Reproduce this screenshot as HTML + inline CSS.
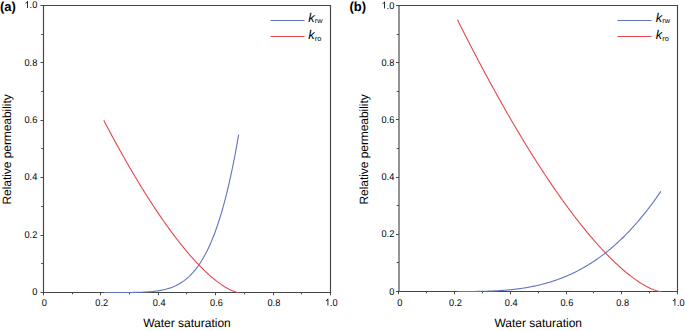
<!DOCTYPE html>
<html><head><meta charset="utf-8"><style>
html,body{margin:0;padding:0;background:#fff;width:685px;height:331px;overflow:hidden}
svg{display:block}
</style></head><body>
<svg width="685" height="331" viewBox="0 0 685 331" text-rendering="geometricPrecision" font-family='"Liberation Sans", sans-serif'>
<rect width="685" height="331" fill="#fff"/>
<path d="M43.5,5.5 L330.5,5.5 L330.5,292.5 L43.5,292.5 Z" fill="none" stroke="#464646" stroke-width="1.15"/>
<line x1="43.5" y1="292.5" x2="43.5" y2="295.3" stroke="#484848" stroke-width="1"/>
<line x1="43.5" y1="292.5" x2="40.5" y2="292.5" stroke="#484848" stroke-width="1"/>
<text transform="translate(44.30,305.60) scale(0.94,1)" text-anchor="middle" font-size="9.8" fill="#000000" >0</text>
<text transform="translate(37.30,295.10) scale(0.94,1)" text-anchor="end" font-size="9.8" fill="#000000" >0</text>
<line x1="72.5" y1="292.5" x2="72.5" y2="294.3" stroke="#484848" stroke-width="1"/>
<line x1="43.5" y1="263.5" x2="41.2" y2="263.5" stroke="#484848" stroke-width="1"/>
<line x1="100.5" y1="292.5" x2="100.5" y2="295.3" stroke="#484848" stroke-width="1"/>
<line x1="43.5" y1="235.5" x2="40.5" y2="235.5" stroke="#484848" stroke-width="1"/>
<text transform="translate(101.70,305.60) scale(0.94,1)" text-anchor="middle" font-size="9.8" fill="#000000" >0.2</text>
<text transform="translate(37.30,237.70) scale(0.94,1)" text-anchor="end" font-size="9.8" fill="#000000" >0.2</text>
<line x1="129.5" y1="292.5" x2="129.5" y2="294.3" stroke="#484848" stroke-width="1"/>
<line x1="43.5" y1="206.5" x2="41.2" y2="206.5" stroke="#484848" stroke-width="1"/>
<line x1="158.5" y1="292.5" x2="158.5" y2="295.3" stroke="#484848" stroke-width="1"/>
<line x1="43.5" y1="177.5" x2="40.5" y2="177.5" stroke="#484848" stroke-width="1"/>
<text transform="translate(159.10,305.60) scale(0.94,1)" text-anchor="middle" font-size="9.8" fill="#000000" >0.4</text>
<text transform="translate(37.30,180.30) scale(0.94,1)" text-anchor="end" font-size="9.8" fill="#000000" >0.4</text>
<line x1="186.5" y1="292.5" x2="186.5" y2="294.3" stroke="#484848" stroke-width="1"/>
<line x1="43.5" y1="148.5" x2="41.2" y2="148.5" stroke="#484848" stroke-width="1"/>
<line x1="215.5" y1="292.5" x2="215.5" y2="295.3" stroke="#484848" stroke-width="1"/>
<line x1="43.5" y1="120.5" x2="40.5" y2="120.5" stroke="#484848" stroke-width="1"/>
<text transform="translate(216.50,305.60) scale(0.94,1)" text-anchor="middle" font-size="9.8" fill="#000000" >0.6</text>
<text transform="translate(37.30,122.90) scale(0.94,1)" text-anchor="end" font-size="9.8" fill="#000000" >0.6</text>
<line x1="244.5" y1="292.5" x2="244.5" y2="294.3" stroke="#484848" stroke-width="1"/>
<line x1="43.5" y1="91.5" x2="41.2" y2="91.5" stroke="#484848" stroke-width="1"/>
<line x1="273.5" y1="292.5" x2="273.5" y2="295.3" stroke="#484848" stroke-width="1"/>
<line x1="43.5" y1="62.5" x2="40.5" y2="62.5" stroke="#484848" stroke-width="1"/>
<text transform="translate(273.90,305.60) scale(0.94,1)" text-anchor="middle" font-size="9.8" fill="#000000" >0.8</text>
<text transform="translate(37.30,65.50) scale(0.94,1)" text-anchor="end" font-size="9.8" fill="#000000" >0.8</text>
<line x1="301.5" y1="292.5" x2="301.5" y2="294.3" stroke="#484848" stroke-width="1"/>
<line x1="43.5" y1="34.5" x2="41.2" y2="34.5" stroke="#484848" stroke-width="1"/>
<line x1="330.5" y1="292.5" x2="330.5" y2="295.3" stroke="#484848" stroke-width="1"/>
<line x1="43.5" y1="5.5" x2="40.5" y2="5.5" stroke="#484848" stroke-width="1"/>
<path d="M763,0 L583,0 L583,1147 Q518,1085 412,1023 Q306,961 222,930 L222,1104 Q373,1175 486,1276 Q599,1377 646,1472 L763,1472 Z" transform="translate(324.90,305.60) scale(0.004498,-0.004785)" fill="#000000" stroke="none"/><text transform="translate(330.02,305.60) scale(0.94,1)" text-anchor="start" font-size="9.8" fill="#000000" >.0</text>
<path d="M763,0 L583,0 L583,1147 Q518,1085 412,1023 Q306,961 222,930 L222,1104 Q373,1175 486,1276 Q599,1377 646,1472 L763,1472 Z" transform="translate(24.50,8.10) scale(0.004498,-0.004785)" fill="#000000" stroke="none"/><text transform="translate(29.62,8.10) scale(0.94,1)" text-anchor="start" font-size="9.8" fill="#000000" >.0</text>
<path d="M103.77,292.50 L104.45,292.50 L105.13,292.50 L105.80,292.50 L106.48,292.50 L107.16,292.50 L107.84,292.50 L108.51,292.50 L109.19,292.50 L109.87,292.50 L110.55,292.50 L111.23,292.50 L111.90,292.50 L112.58,292.50 L113.26,292.50 L113.94,292.50 L114.62,292.50 L115.29,292.50 L115.97,292.50 L116.65,292.50 L117.33,292.50 L118.00,292.50 L118.68,292.50 L119.36,292.50 L120.04,292.50 L120.72,292.50 L121.39,292.49 L122.07,292.49 L122.75,292.49 L123.43,292.49 L124.11,292.49 L124.78,292.49 L125.46,292.48 L126.14,292.48 L126.82,292.48 L127.49,292.47 L128.17,292.47 L128.85,292.46 L129.53,292.46 L130.21,292.45 L130.88,292.45 L131.56,292.44 L132.24,292.43 L132.92,292.43 L133.59,292.42 L134.27,292.41 L134.95,292.40 L135.63,292.38 L136.31,292.37 L136.98,292.36 L137.66,292.34 L138.34,292.33 L139.02,292.31 L139.70,292.29 L140.37,292.27 L141.05,292.25 L141.73,292.22 L142.41,292.20 L143.08,292.17 L143.76,292.14 L144.44,292.11 L145.12,292.07 L145.80,292.04 L146.47,292.00 L147.15,291.96 L147.83,291.91 L148.51,291.87 L149.19,291.82 L149.86,291.76 L150.54,291.71 L151.22,291.65 L151.90,291.59 L152.57,291.52 L153.25,291.45 L153.93,291.38 L154.61,291.30 L155.29,291.22 L155.96,291.13 L156.64,291.04 L157.32,290.94 L158.00,290.84 L158.67,290.74 L159.35,290.62 L160.03,290.51 L160.71,290.38 L161.39,290.26 L162.06,290.12 L162.74,289.98 L163.42,289.83 L164.10,289.68 L164.78,289.51 L165.45,289.34 L166.13,289.17 L166.81,288.98 L167.49,288.79 L168.16,288.59 L168.84,288.38 L169.52,288.16 L170.20,287.93 L170.88,287.69 L171.55,287.44 L172.23,287.18 L172.91,286.92 L173.59,286.64 L174.27,286.35 L174.94,286.04 L175.62,285.73 L176.30,285.41 L176.98,285.07 L177.65,284.72 L178.33,284.35 L179.01,283.98 L179.69,283.59 L180.37,283.18 L181.04,282.76 L181.72,282.33 L182.40,281.88 L183.08,281.41 L183.76,280.93 L184.43,280.43 L185.11,279.91 L185.79,279.38 L186.47,278.83 L187.14,278.26 L187.82,277.67 L188.50,277.06 L189.18,276.44 L189.86,275.79 L190.53,275.12 L191.21,274.43 L191.89,273.72 L192.57,272.99 L193.24,272.23 L193.92,271.45 L194.60,270.65 L195.28,269.82 L195.96,268.97 L196.63,268.09 L197.31,267.19 L197.99,266.25 L198.67,265.30 L199.35,264.31 L200.02,263.30 L200.70,262.25 L201.38,261.18 L202.06,260.08 L202.73,258.95 L203.41,257.78 L204.09,256.58 L204.77,255.35 L205.45,254.09 L206.12,252.79 L206.80,251.46 L207.48,250.09 L208.16,248.69 L208.84,247.25 L209.51,245.77 L210.19,244.25 L210.87,242.70 L211.55,241.10 L212.22,239.46 L212.90,237.78 L213.58,236.06 L214.26,234.30 L214.94,232.49 L215.61,230.64 L216.29,228.74 L216.97,226.80 L217.65,224.81 L218.32,222.77 L219.00,220.68 L219.68,218.55 L220.36,216.36 L221.04,214.12 L221.71,211.83 L222.39,209.48 L223.07,207.08 L223.75,204.63 L224.43,202.12 L225.10,199.55 L225.78,196.93 L226.46,194.24 L227.14,191.50 L227.81,188.69 L228.49,185.82 L229.17,182.89 L229.85,179.90 L230.53,176.84 L231.20,173.71 L231.88,170.52 L232.56,167.26 L233.24,163.93 L233.92,160.53 L234.59,157.05 L235.27,153.51 L235.95,149.89 L236.63,146.19 L237.30,142.42 L237.98,138.58 L238.66,134.65" fill="none" stroke="#6273be" stroke-width="1.1"/>
<path d="M103.77,120.30 L104.45,121.60 L105.13,122.89 L105.80,124.18 L106.48,125.47 L107.16,126.75 L107.84,128.03 L108.51,129.31 L109.19,130.58 L109.87,131.85 L110.55,133.12 L111.23,134.38 L111.90,135.64 L112.58,136.90 L113.26,138.15 L113.94,139.40 L114.62,140.64 L115.29,141.89 L115.97,143.13 L116.65,144.36 L117.33,145.60 L118.00,146.83 L118.68,148.05 L119.36,149.27 L120.04,150.49 L120.72,151.71 L121.39,152.92 L122.07,154.13 L122.75,155.33 L123.43,156.54 L124.11,157.73 L124.78,158.93 L125.46,160.12 L126.14,161.31 L126.82,162.49 L127.49,163.67 L128.17,164.85 L128.85,166.02 L129.53,167.19 L130.21,168.35 L130.88,169.52 L131.56,170.67 L132.24,171.83 L132.92,172.98 L133.59,174.13 L134.27,175.27 L134.95,176.41 L135.63,177.55 L136.31,178.68 L136.98,179.81 L137.66,180.93 L138.34,182.05 L139.02,183.17 L139.70,184.29 L140.37,185.40 L141.05,186.50 L141.73,187.60 L142.41,188.70 L143.08,189.80 L143.76,190.89 L144.44,191.97 L145.12,193.06 L145.80,194.14 L146.47,195.21 L147.15,196.28 L147.83,197.35 L148.51,198.41 L149.19,199.47 L149.86,200.53 L150.54,201.58 L151.22,202.63 L151.90,203.67 L152.57,204.71 L153.25,205.74 L153.93,206.77 L154.61,207.80 L155.29,208.82 L155.96,209.84 L156.64,210.85 L157.32,211.86 L158.00,212.87 L158.67,213.87 L159.35,214.87 L160.03,215.86 L160.71,216.85 L161.39,217.84 L162.06,218.82 L162.74,219.79 L163.42,220.76 L164.10,221.73 L164.78,222.69 L165.45,223.65 L166.13,224.61 L166.81,225.56 L167.49,226.50 L168.16,227.44 L168.84,228.38 L169.52,229.31 L170.20,230.24 L170.88,231.16 L171.55,232.08 L172.23,232.99 L172.91,233.90 L173.59,234.80 L174.27,235.70 L174.94,236.60 L175.62,237.49 L176.30,238.37 L176.98,239.25 L177.65,240.13 L178.33,241.00 L179.01,241.86 L179.69,242.72 L180.37,243.58 L181.04,244.43 L181.72,245.27 L182.40,246.12 L183.08,246.95 L183.76,247.78 L184.43,248.61 L185.11,249.43 L185.79,250.24 L186.47,251.05 L187.14,251.86 L187.82,252.66 L188.50,253.45 L189.18,254.24 L189.86,255.02 L190.53,255.80 L191.21,256.57 L191.89,257.34 L192.57,258.10 L193.24,258.86 L193.92,259.61 L194.60,260.35 L195.28,261.09 L195.96,261.83 L196.63,262.55 L197.31,263.28 L197.99,263.99 L198.67,264.70 L199.35,265.40 L200.02,266.10 L200.70,266.79 L201.38,267.48 L202.06,268.16 L202.73,268.83 L203.41,269.50 L204.09,270.16 L204.77,270.81 L205.45,271.46 L206.12,272.10 L206.80,272.73 L207.48,273.36 L208.16,273.98 L208.84,274.60 L209.51,275.20 L210.19,275.80 L210.87,276.40 L211.55,276.98 L212.22,277.56 L212.90,278.13 L213.58,278.69 L214.26,279.25 L214.94,279.80 L215.61,280.34 L216.29,280.87 L216.97,281.40 L217.65,281.91 L218.32,282.42 L219.00,282.92 L219.68,283.41 L220.36,283.89 L221.04,284.37 L221.71,284.83 L222.39,285.29 L223.07,285.73 L223.75,286.17 L224.43,286.60 L225.10,287.01 L225.78,287.42 L226.46,287.82 L227.14,288.20 L227.81,288.57 L228.49,288.94 L229.17,289.29 L229.85,289.62 L230.53,289.95 L231.20,290.26 L231.88,290.56 L232.56,290.84 L233.24,291.11 L233.92,291.36 L234.59,291.60 L235.27,291.81 L235.95,292.01 L236.63,292.18 L237.30,292.33 L237.98,292.44 L238.66,292.50" fill="none" stroke="#e6464b" stroke-width="1.1"/>
<line x1="270.5" y1="20.5" x2="304.5" y2="20.5" stroke="#6273be" stroke-width="1"/>
<line x1="270.5" y1="36.5" x2="304.5" y2="36.5" stroke="#e6464b" stroke-width="1"/>
<text x="308.3" y="21.5" font-size="12" fill="#000000" ><tspan font-style="italic" font-size="12.8">k</tspan><tspan font-size="7.3" dy="1.35">rw</tspan></text>
<text x="308.3" y="39.4" font-size="12" fill="#000000" ><tspan font-style="italic" font-size="12.8">k</tspan><tspan font-size="7.3" dy="1.35">ro</tspan></text>
<text x="187.0" y="327" text-anchor="middle" font-size="12" fill="#000000" >Water saturation</text>
<text transform="translate(10.9,149.4) rotate(-90)" x="0" y="0" text-anchor="middle" font-size="12" textLength="110.2" lengthAdjust="spacing" fill="#000000" >Relative permeability</text>
<text x="0" y="10.9" font-size="13" font-weight="bold" fill="#000000">(a)</text>
<path d="M399,5.5 L677.5,5.5 L677.5,291.5 L399,291.5 Z" fill="none" stroke="#464646" stroke-width="1.15"/>
<line x1="398.5" y1="291.5" x2="398.5" y2="294.3" stroke="#484848" stroke-width="1"/>
<line x1="399" y1="291.5" x2="396.0" y2="291.5" stroke="#484848" stroke-width="1"/>
<text transform="translate(399.80,305.60) scale(0.94,1)" text-anchor="middle" font-size="9.8" fill="#000000" >0</text>
<text transform="translate(394.30,294.50) scale(0.94,1)" text-anchor="end" font-size="9.8" fill="#000000" >0</text>
<line x1="426.5" y1="291.5" x2="426.5" y2="293.3" stroke="#484848" stroke-width="1"/>
<line x1="399" y1="262.5" x2="396.7" y2="262.5" stroke="#484848" stroke-width="1"/>
<line x1="454.5" y1="291.5" x2="454.5" y2="294.3" stroke="#484848" stroke-width="1"/>
<line x1="399" y1="234.5" x2="396.0" y2="234.5" stroke="#484848" stroke-width="1"/>
<text transform="translate(455.50,305.60) scale(0.94,1)" text-anchor="middle" font-size="9.8" fill="#000000" >0.2</text>
<text transform="translate(394.30,237.30) scale(0.94,1)" text-anchor="end" font-size="9.8" fill="#000000" >0.2</text>
<line x1="482.5" y1="291.5" x2="482.5" y2="293.3" stroke="#484848" stroke-width="1"/>
<line x1="399" y1="205.5" x2="396.7" y2="205.5" stroke="#484848" stroke-width="1"/>
<line x1="510.5" y1="291.5" x2="510.5" y2="294.3" stroke="#484848" stroke-width="1"/>
<line x1="399" y1="177.5" x2="396.0" y2="177.5" stroke="#484848" stroke-width="1"/>
<text transform="translate(511.20,305.60) scale(0.94,1)" text-anchor="middle" font-size="9.8" fill="#000000" >0.4</text>
<text transform="translate(394.30,180.10) scale(0.94,1)" text-anchor="end" font-size="9.8" fill="#000000" >0.4</text>
<line x1="538.5" y1="291.5" x2="538.5" y2="293.3" stroke="#484848" stroke-width="1"/>
<line x1="399" y1="148.5" x2="396.7" y2="148.5" stroke="#484848" stroke-width="1"/>
<line x1="566.5" y1="291.5" x2="566.5" y2="294.3" stroke="#484848" stroke-width="1"/>
<line x1="399" y1="119.5" x2="396.0" y2="119.5" stroke="#484848" stroke-width="1"/>
<text transform="translate(566.90,305.60) scale(0.94,1)" text-anchor="middle" font-size="9.8" fill="#000000" >0.6</text>
<text transform="translate(394.30,122.90) scale(0.94,1)" text-anchor="end" font-size="9.8" fill="#000000" >0.6</text>
<line x1="593.5" y1="291.5" x2="593.5" y2="293.3" stroke="#484848" stroke-width="1"/>
<line x1="399" y1="91.5" x2="396.7" y2="91.5" stroke="#484848" stroke-width="1"/>
<line x1="621.5" y1="291.5" x2="621.5" y2="294.3" stroke="#484848" stroke-width="1"/>
<line x1="399" y1="62.5" x2="396.0" y2="62.5" stroke="#484848" stroke-width="1"/>
<text transform="translate(622.60,305.60) scale(0.94,1)" text-anchor="middle" font-size="9.8" fill="#000000" >0.8</text>
<text transform="translate(394.30,65.70) scale(0.94,1)" text-anchor="end" font-size="9.8" fill="#000000" >0.8</text>
<line x1="649.5" y1="291.5" x2="649.5" y2="293.3" stroke="#484848" stroke-width="1"/>
<line x1="399" y1="34.5" x2="396.7" y2="34.5" stroke="#484848" stroke-width="1"/>
<line x1="677.5" y1="291.5" x2="677.5" y2="294.3" stroke="#484848" stroke-width="1"/>
<line x1="399" y1="5.5" x2="396.0" y2="5.5" stroke="#484848" stroke-width="1"/>
<path d="M763,0 L583,0 L583,1147 Q518,1085 412,1023 Q306,961 222,930 L222,1104 Q373,1175 486,1276 Q599,1377 646,1472 L763,1472 Z" transform="translate(671.90,305.60) scale(0.004498,-0.004785)" fill="#000000" stroke="none"/><text transform="translate(677.02,305.60) scale(0.94,1)" text-anchor="start" font-size="9.8" fill="#000000" >.0</text>
<path d="M763,0 L583,0 L583,1147 Q518,1085 412,1023 Q306,961 222,930 L222,1104 Q373,1175 486,1276 Q599,1377 646,1472 L763,1472 Z" transform="translate(381.50,8.50) scale(0.004498,-0.004785)" fill="#000000" stroke="none"/><text transform="translate(386.62,8.50) scale(0.94,1)" text-anchor="start" font-size="9.8" fill="#000000" >.0</text>
<path d="M457.49,291.50 L458.51,291.50 L459.53,291.50 L460.55,291.50 L461.57,291.50 L462.59,291.50 L463.61,291.50 L464.64,291.50 L465.66,291.49 L466.68,291.49 L467.70,291.49 L468.72,291.48 L469.74,291.48 L470.77,291.47 L471.79,291.47 L472.81,291.46 L473.83,291.45 L474.85,291.44 L475.87,291.43 L476.90,291.41 L477.92,291.40 L478.94,291.38 L479.96,291.36 L480.98,291.35 L482.00,291.32 L483.03,291.30 L484.05,291.28 L485.07,291.25 L486.09,291.22 L487.11,291.19 L488.13,291.16 L489.16,291.12 L490.18,291.08 L491.20,291.04 L492.22,291.00 L493.24,290.96 L494.26,290.91 L495.29,290.86 L496.31,290.80 L497.33,290.75 L498.35,290.69 L499.37,290.62 L500.39,290.56 L501.42,290.49 L502.44,290.42 L503.46,290.34 L504.48,290.26 L505.50,290.18 L506.52,290.10 L507.55,290.01 L508.57,289.91 L509.59,289.82 L510.61,289.71 L511.63,289.61 L512.65,289.50 L513.67,289.39 L514.70,289.27 L515.72,289.15 L516.74,289.02 L517.76,288.89 L518.78,288.76 L519.80,288.62 L520.83,288.47 L521.85,288.32 L522.87,288.17 L523.89,288.01 L524.91,287.85 L525.93,287.68 L526.96,287.51 L527.98,287.33 L529.00,287.14 L530.02,286.95 L531.04,286.76 L532.06,286.56 L533.09,286.35 L534.11,286.14 L535.13,285.92 L536.15,285.70 L537.17,285.47 L538.19,285.24 L539.22,285.00 L540.24,284.75 L541.26,284.50 L542.28,284.24 L543.30,283.97 L544.32,283.70 L545.35,283.42 L546.37,283.14 L547.39,282.84 L548.41,282.55 L549.43,282.24 L550.45,281.93 L551.48,281.61 L552.50,281.28 L553.52,280.95 L554.54,280.61 L555.56,280.26 L556.58,279.91 L557.61,279.54 L558.63,279.18 L559.65,278.80 L560.67,278.41 L561.69,278.02 L562.71,277.62 L563.73,277.21 L564.76,276.80 L565.78,276.37 L566.80,275.94 L567.82,275.50 L568.84,275.05 L569.86,274.59 L570.89,274.13 L571.91,273.65 L572.93,273.17 L573.95,272.68 L574.97,272.18 L575.99,271.67 L577.02,271.16 L578.04,270.63 L579.06,270.09 L580.08,269.55 L581.10,269.00 L582.12,268.43 L583.15,267.86 L584.17,267.28 L585.19,266.69 L586.21,266.09 L587.23,265.48 L588.25,264.86 L589.28,264.23 L590.30,263.59 L591.32,262.94 L592.34,262.29 L593.36,261.62 L594.38,260.94 L595.41,260.25 L596.43,259.55 L597.45,258.84 L598.47,258.12 L599.49,257.39 L600.51,256.65 L601.54,255.89 L602.56,255.13 L603.58,254.36 L604.60,253.57 L605.62,252.78 L606.64,251.97 L607.67,251.15 L608.69,250.32 L609.71,249.48 L610.73,248.63 L611.75,247.77 L612.77,246.89 L613.79,246.01 L614.82,245.11 L615.84,244.20 L616.86,243.28 L617.88,242.34 L618.90,241.40 L619.92,240.44 L620.95,239.47 L621.97,238.49 L622.99,237.50 L624.01,236.49 L625.03,235.47 L626.05,234.44 L627.08,233.40 L628.10,232.34 L629.12,231.27 L630.14,230.19 L631.16,229.09 L632.18,227.99 L633.21,226.87 L634.23,225.73 L635.25,224.59 L636.27,223.42 L637.29,222.25 L638.31,221.06 L639.34,219.86 L640.36,218.65 L641.38,217.42 L642.40,216.18 L643.42,214.92 L644.44,213.66 L645.47,212.37 L646.49,211.08 L647.51,209.76 L648.53,208.44 L649.55,207.10 L650.57,205.74 L651.60,204.38 L652.62,202.99 L653.64,201.60 L654.66,200.18 L655.68,198.76 L656.70,197.32 L657.73,195.86 L658.75,194.39 L659.77,192.90 L660.79,191.40" fill="none" stroke="#6273be" stroke-width="1.1"/>
<path d="M457.49,19.80 L458.51,21.85 L459.53,23.89 L460.55,25.92 L461.57,27.95 L462.59,29.98 L463.61,31.99 L464.64,34.01 L465.66,36.02 L466.68,38.02 L467.70,40.02 L468.72,42.01 L469.74,44.00 L470.77,45.98 L471.79,47.96 L472.81,49.93 L473.83,51.90 L474.85,53.86 L475.87,55.82 L476.90,57.77 L477.92,59.71 L478.94,61.65 L479.96,63.59 L480.98,65.52 L482.00,67.44 L483.03,69.36 L484.05,71.27 L485.07,73.18 L486.09,75.08 L487.11,76.97 L488.13,78.86 L489.16,80.75 L490.18,82.63 L491.20,84.50 L492.22,86.37 L493.24,88.23 L494.26,90.09 L495.29,91.94 L496.31,93.78 L497.33,95.62 L498.35,97.45 L499.37,99.28 L500.39,101.10 L501.42,102.92 L502.44,104.73 L503.46,106.53 L504.48,108.33 L505.50,110.13 L506.52,111.91 L507.55,113.69 L508.57,115.47 L509.59,117.24 L510.61,119.00 L511.63,120.76 L512.65,122.51 L513.67,124.25 L514.70,125.99 L515.72,127.73 L516.74,129.45 L517.76,131.17 L518.78,132.89 L519.80,134.60 L520.83,136.30 L521.85,138.00 L522.87,139.69 L523.89,141.37 L524.91,143.05 L525.93,144.72 L526.96,146.38 L527.98,148.04 L529.00,149.69 L530.02,151.34 L531.04,152.98 L532.06,154.61 L533.09,156.24 L534.11,157.86 L535.13,159.47 L536.15,161.08 L537.17,162.68 L538.19,164.27 L539.22,165.86 L540.24,167.44 L541.26,169.01 L542.28,170.58 L543.30,172.14 L544.32,173.69 L545.35,175.24 L546.37,176.78 L547.39,178.31 L548.41,179.84 L549.43,181.36 L550.45,182.87 L551.48,184.38 L552.50,185.87 L553.52,187.37 L554.54,188.85 L555.56,190.33 L556.58,191.80 L557.61,193.26 L558.63,194.71 L559.65,196.16 L560.67,197.60 L561.69,199.04 L562.71,200.46 L563.73,201.88 L564.76,203.29 L565.78,204.70 L566.80,206.09 L567.82,207.48 L568.84,208.86 L569.86,210.24 L570.89,211.60 L571.91,212.96 L572.93,214.31 L573.95,215.65 L574.97,216.99 L575.99,218.31 L577.02,219.63 L578.04,220.94 L579.06,222.25 L580.08,223.54 L581.10,224.83 L582.12,226.10 L583.15,227.37 L584.17,228.64 L585.19,229.89 L586.21,231.13 L587.23,232.37 L588.25,233.60 L589.28,234.82 L590.30,236.03 L591.32,237.23 L592.34,238.42 L593.36,239.60 L594.38,240.78 L595.41,241.95 L596.43,243.10 L597.45,244.25 L598.47,245.39 L599.49,246.52 L600.51,247.64 L601.54,248.75 L602.56,249.85 L603.58,250.94 L604.60,252.02 L605.62,253.09 L606.64,254.16 L607.67,255.21 L608.69,256.25 L609.71,257.28 L610.73,258.30 L611.75,259.31 L612.77,260.31 L613.79,261.30 L614.82,262.28 L615.84,263.25 L616.86,264.21 L617.88,265.16 L618.90,266.09 L619.92,267.02 L620.95,267.93 L621.97,268.83 L622.99,269.72 L624.01,270.59 L625.03,271.46 L626.05,272.31 L627.08,273.15 L628.10,273.98 L629.12,274.79 L630.14,275.60 L631.16,276.39 L632.18,277.16 L633.21,277.92 L634.23,278.67 L635.25,279.40 L636.27,280.12 L637.29,280.82 L638.31,281.51 L639.34,282.19 L640.36,282.84 L641.38,283.48 L642.40,284.11 L643.42,284.72 L644.44,285.31 L645.47,285.88 L646.49,286.43 L647.51,286.96 L648.53,287.48 L649.55,287.97 L650.57,288.44 L651.60,288.89 L652.62,289.31 L653.64,289.71 L654.66,290.08 L655.68,290.42 L656.70,290.73 L657.73,291.00 L658.75,291.23 L659.77,291.40 L660.79,291.50" fill="none" stroke="#e6464b" stroke-width="1.1"/>
<line x1="617.5" y1="20.5" x2="651.5" y2="20.5" stroke="#6273be" stroke-width="1"/>
<line x1="617.5" y1="36.5" x2="651.5" y2="36.5" stroke="#e6464b" stroke-width="1"/>
<text x="655.8" y="21.5" font-size="12" fill="#000000" ><tspan font-style="italic" font-size="12.8">k</tspan><tspan font-size="7.3" dy="1.35">rw</tspan></text>
<text x="655.8" y="39.4" font-size="12" fill="#000000" ><tspan font-style="italic" font-size="12.8">k</tspan><tspan font-size="7.3" dy="1.35">ro</tspan></text>
<text x="538.25" y="327" text-anchor="middle" font-size="12" fill="#000000" >Water saturation</text>
<text transform="translate(367.6,149.4) rotate(-90)" x="0" y="0" text-anchor="middle" font-size="12" textLength="110.2" lengthAdjust="spacing" fill="#000000" >Relative permeability</text>
<text x="349.5" y="10.9" font-size="13" font-weight="bold" fill="#000000">(b)</text>
</svg>
</body></html>
